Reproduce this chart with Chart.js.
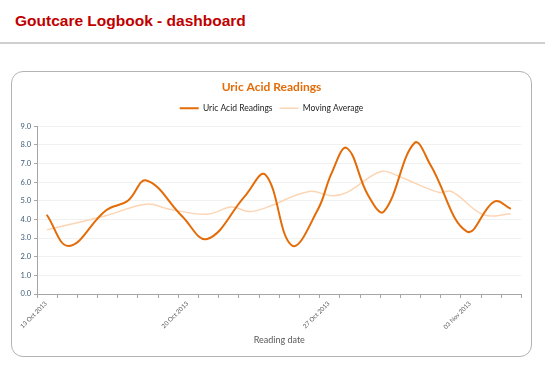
<!DOCTYPE html>
<html>
<head>
<meta charset="utf-8">
<script src="https://cdn.jsdelivr.net/npm/chart.js@4.4.0/dist/chart.umd.min.js"></script>
<style>
  html, body { margin: 0; padding: 0; background: #ffffff; }
  body { width: 545px; height: 374px; position: relative; overflow: hidden; }
  .page-title {
    position: absolute; left: 15px; top: 12px;
    font-family: 'Liberation Sans', Arial, sans-serif;
    font-weight: bold; font-size: 15.5px; color: #c00000;
  }
  .rule { position: absolute; left: 0; top: 42px; width: 545px; height: 0; border-top: 2px solid #cfcfcf; }
  .card {
    position: absolute; left: 11px; top: 71px; width: 519px; height: 284px;
    border: 1.5px solid #b3b3b3; border-radius: 12px; background: #fff;
  }
  .card canvas { position: absolute; left: 0; top: 0; }
</style>
</head>
<body>
<div class="page-title">Goutcare Logbook - dashboard</div>
<div class="rule"></div>
<div class="card"><canvas id="uricChart" width="519" height="284"></canvas></div>

<script>
// ============================================
// Data (x = days after 13 Oct 2013)
// ============================================
const readingDays  = [0.48, 1.58, 3.41, 4.5, 5.42, 7.2, 8.43, 10.3, 11.31, 12.63, 13.9, 14.6, 15.34, 16.4, 17.18, 18.7, 19.5, 21.3, 22.65, 23.47];
const uricAcid     = [4.25, 2.58, 4.48, 5.0, 6.09, 4.16, 2.95, 5.25, 6.4, 2.6, 4.5, 6.5, 7.83, 5.3, 4.42, 8.1, 6.9, 3.35, 4.96, 4.57];

const averageDays  = [0.48, 3.41, 5.41, 6.57, 8.44, 9.63, 10.52, 11.41, 13.48, 14.62, 15.36, 17.04, 17.93, 19.9, 20.54, 22.12, 23.46];
const movingAverage = [3.44, 4.2, 4.82, 4.55, 4.28, 4.66, 4.42, 4.66, 5.5, 5.27, 5.45, 6.57, 6.3, 5.45, 5.5, 4.25, 4.3];

const labelDays  = [0, 7, 14, 21];
const dateLabels = ['13 Oct 2013', '20 Oct 2013', '27 Oct 2013', '03 Nov 2013'];

const lineColor = '#e36c09';
const avgColor = '#fcd5b4';
const chartFont = "Lato, 'Open Sans', sans-serif";

Chart.defaults.font.family = chartFont;

function toPoints(xs, ys) {
    return xs.map((x, i) => ({ x: x, y: ys[i] }));
}

// Small empty layout box between the legend and the plot
const legendGap = {
    id: 'legendGap',
    beforeInit(chart) {
        Chart.layouts.addBox(chart, {
            position: 'top',
            weight: 0,
            fullSize: true,
            options: {},
            left: 0, top: 0, right: 0, bottom: 0, width: 0, height: 0,
            isHorizontal() { return true; },
            update(maxWidth) { this.width = maxWidth; this.height = 3.8; },
            draw() {}
        });
    }
};

const ctx = document.getElementById('uricChart');

new Chart(ctx, {
    type: 'line',
    data: {
        datasets: [
            {
                label: 'Uric Acid Readings',
                data: toPoints(readingDays, uricAcid),
                borderColor: lineColor,
                backgroundColor: lineColor,
                borderWidth: 2,
                tension: 0.4,
                pointRadius: 0,
                fill: false,
                order: 1
            },
            {
                label: 'Moving Average',
                data: toPoints(averageDays, movingAverage),
                borderColor: avgColor,
                backgroundColor: avgColor,
                borderWidth: 1.5,
                tension: 0.4,
                pointRadius: 0,
                fill: false,
                order: 2
            }
        ]
    },
    plugins: [legendGap],
    options: {
        responsive: false,
        animation: false,
        layout: {
            padding: 0
        },
        plugins: {
            title: {
                display: true,
                text: 'Uric Acid Readings',
                color: lineColor,
                font: { size: 12, weight: 'bold' },
                padding: { top: 7.5, bottom: 3 }
            },
            legend: {
                display: true,
                position: 'top',
                labels: {
                    color: '#222222',
                    font: { size: 8.5 },
                    usePointStyle: true,
                    pointStyle: 'line',
                    pointStyleWidth: 19,
                    padding: 7
                }
            },
            tooltip: { enabled: false }
        },
        scales: {
            x: {
                type: 'linear',
                min: 0,
                max: 24,
                afterFit: function(scale) {
                    scale.height = 62;
                    scale.paddingLeft = 0;
                    // room on the right of the plot, like the reference
                    scale.paddingRight = 9.5;
                },
                border: { color: '#a6a6a6', width: 1 },
                grid: {
                    drawOnChartArea: false,
                    drawTicks: true,
                    tickLength: 4,
                    color: '#a6a6a6'
                },
                ticks: {
                    stepSize: 1,
                    autoSkip: false,
                    minRotation: 45,
                    maxRotation: 45,
                    labelOffset: 9,
                    padding: 2,
                    color: '#595959',
                    font: { size: 6.2 },
                    callback: function(value) {
                        const idx = labelDays.indexOf(value);
                        return idx >= 0 ? dateLabels[idx] : '';
                    }
                },
                title: {
                    display: true,
                    text: 'Reading date',
                    color: '#595959',
                    font: { size: 9 },
                    padding: { top: 0, bottom: 11 }
                }
            },
            y: {
                min: 0,
                max: 9,
                afterFit: function(scale) {
                    scale.width = 25;
                },
                border: { color: '#a6a6a6', width: 1 },
                grid: {
                    color: '#f0f2f2',
                    tickColor: '#a6a6a6',
                    tickLength: 3
                },
                ticks: {
                    stepSize: 1,
                    padding: 3,
                    color: '#3e5a73',
                    font: { size: 7.5 },
                    callback: function(value) {
                        return value.toFixed(1);
                    }
                }
            }
        }
    }
});
</script>
</body>
</html>
